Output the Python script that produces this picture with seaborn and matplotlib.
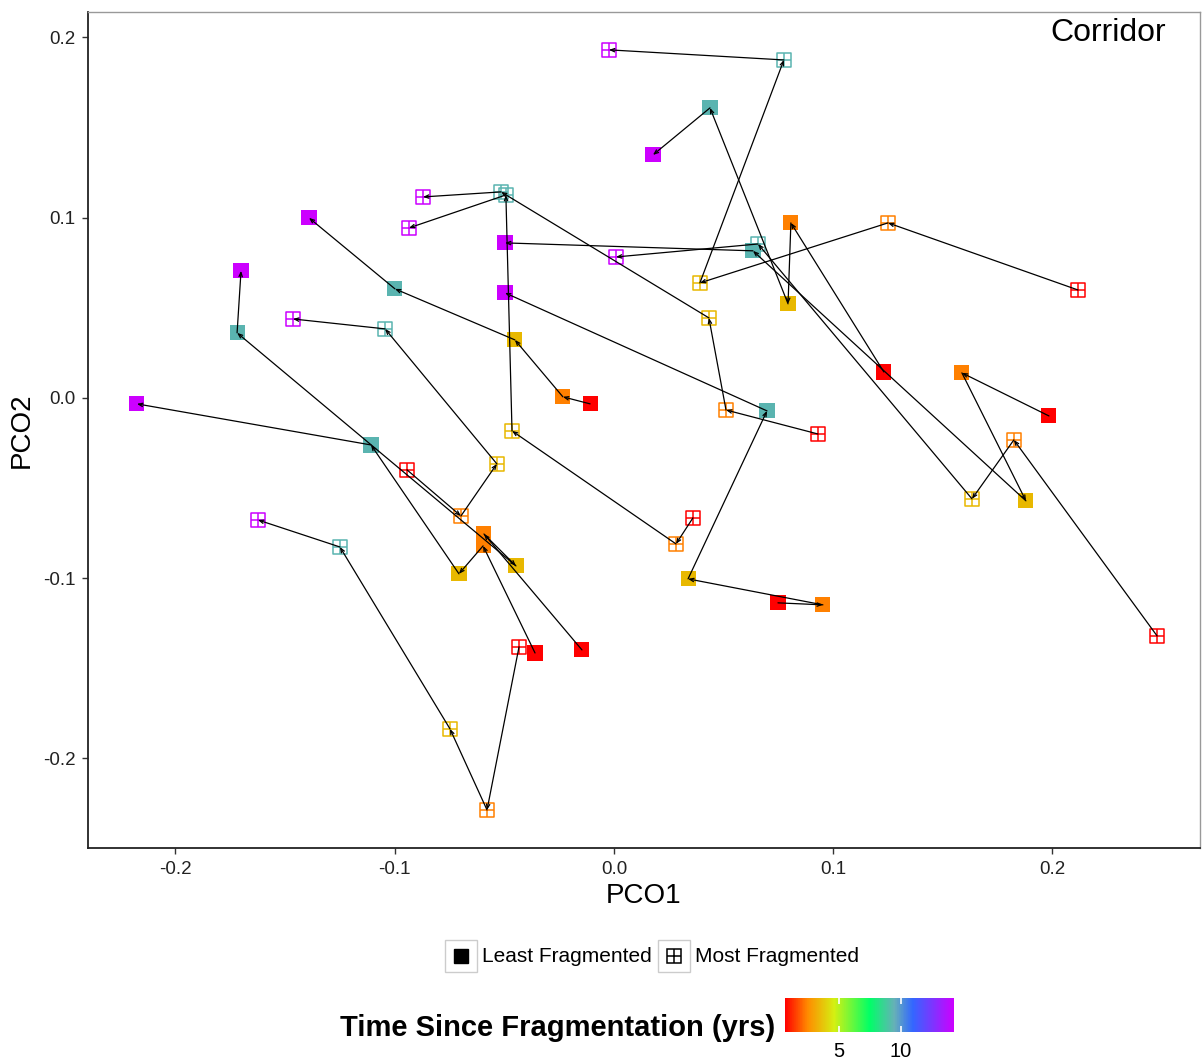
import numpy as np
import pandas as pd
import matplotlib
matplotlib.use("Agg")
import matplotlib.pyplot as plt
from matplotlib.colors import LinearSegmentedColormap, Normalize
from matplotlib.cm import ScalarMappable
from matplotlib.patches import Rectangle
from matplotlib.lines import Line2D
import seaborn as sns

# Time since fragmentation (yrs) for each sampling, and the colour used for it
times = [1, 3, 4, 9, 14]
time_colors = ["#FF0000", "#FF8000", "#E8B800", "#5AB4B0", "#CC00FF"]

# Least fragmented sites: one list per site, points in order of `times`
least_x = [
    [0.1231, 0.0807, 0.0794, 0.0438, 0.0178],
    [0.1984, 0.1587, 0.1879, 0.0634, -0.0497],
    [0.0748, 0.0953, 0.0338, 0.0698, -0.0497],
    [-0.0109, -0.0233, -0.0452, -0.0999, -0.1391],
    [-0.0146, -0.0593, -0.0447, -0.1719, -0.1701],
    [-0.0360, -0.0597, -0.0707, -0.1108, -0.2176],
]
least_y = [
    [0.0144, 0.0971, 0.0522, 0.1609, 0.1348],
    [-0.0100, 0.0139, -0.0571, 0.0816, 0.0860],
    [-0.1137, -0.1148, -0.1004, -0.0072, 0.0583],
    [-0.0033, 0.0006, 0.0322, 0.0605, 0.0999],
    [-0.1398, -0.0755, -0.0932, 0.0361, 0.0705],
    [-0.1415, -0.0821, -0.0976, -0.0261, -0.0033],
]

# Most fragmented sites
most_x = [
    [0.2116, 0.1250, 0.0392, 0.0775, -0.0023],
    [0.0930, 0.0511, 0.0433, -0.0515, -0.0871],
    [0.0360, 0.0283, -0.0465, -0.0493, -0.0935],
    [0.2477, 0.1824, 0.1633, 0.0657, 0.0009],
    [-0.0944, -0.0698, -0.0534, -0.1044, -0.1464],
    [-0.0433, -0.0579, -0.0748, -0.1250, -0.1624],
]
most_y = [
    [0.0599, 0.0971, 0.0638, 0.1875, 0.1931],
    [-0.0200, -0.0067, 0.0444, 0.1143, 0.1115],
    [-0.0666, -0.0810, -0.0183, 0.1126, 0.0943],
    [-0.1320, -0.0233, -0.0560, 0.0854, 0.0782],
    [-0.0399, -0.0655, -0.0366, 0.0383, 0.0438],
    [-0.1381, -0.2286, -0.1836, -0.0827, -0.0677],
]

rows = []
for treat, xs_all, ys_all in [("Least Fragmented", least_x, least_y),
                              ("Most Fragmented", most_x, most_y)]:
    for site, (xs, ys) in enumerate(zip(xs_all, ys_all)):
        for t, x, y in zip(times, xs, ys):
            rows.append({"treatment": treat, "site": f"{treat}-{site}", "time": t, "PCO1": x, "PCO2": y})
df = pd.DataFrame(rows)
palette = dict(zip(times, time_colors))

sns.set_theme(style="white")
plt.rcParams["font.family"] = ["Liberation Sans", "DejaVu Sans"]

W, H = 1202, 1062
fig = plt.figure(figsize=(W / 100, H / 100), dpi=100)


def fx(px):
    return px / W


def fy(py):
    return 1 - py / H


ax = fig.add_axes([fx(88), fy(848), fx(1200) - fx(88), fy(12) - fy(848)])

# filled squares
least = df[df["treatment"] == "Least Fragmented"]
sns.scatterplot(data=least, x="PCO1", y="PCO2", hue="time", palette=palette,
                marker="s", s=118, linewidth=0, legend=False, ax=ax, zorder=2)

# squares with a cross
most = df[df["treatment"] == "Most Fragmented"]
ax.scatter(most["PCO1"], most["PCO2"], marker="s", s=100, facecolors="none",
           edgecolors=most["time"].map(palette), linewidths=1.1, zorder=2)
sns.scatterplot(data=most, x="PCO1", y="PCO2", hue="time", palette=palette,
                marker="+", s=100, linewidth=1.1, legend=False, ax=ax, zorder=2)

# trajectories with small arrows, in time order
for _, g in df.groupby("site"):
    g = g.sort_values("time")
    pts = g[["PCO1", "PCO2"]].to_numpy()
    for (x0, y0), (x1, y1) in zip(pts[:-1], pts[1:]):
        ax.annotate("", xy=(x1, y1), xytext=(x0, y0),
                    arrowprops=dict(arrowstyle="->,head_length=0.3,head_width=0.12",
                                    color="black", lw=0.9, shrinkA=0, shrinkB=0,
                                    mutation_scale=10),
                    zorder=3)

ax.set_xlim(-0.2399, 0.2673)
ax.set_ylim(-0.2497, 0.2141)
ticks = [-0.2, -0.1, 0.0, 0.1, 0.2]
ax.set_xticks(ticks)
ax.set_yticks(ticks)
ax.set_xticklabels([f"{t:.1f}" for t in ticks])
ax.set_yticklabels([f"{t:.1f}" for t in ticks])
ax.tick_params(axis="both", which="both", bottom=True, left=True, length=4, width=1,
               direction="out", color="#333333", labelsize=13.5, labelcolor="#222222", pad=5)

for side in ["left", "bottom"]:
    ax.spines[side].set_color("#222222")
    ax.spines[side].set_linewidth(1.3)
for side in ["top", "right"]:
    ax.spines[side].set_color("#999999")
    ax.spines[side].set_linewidth(1.0)

ax.set_xlabel("PCO1", fontsize=20, color="black")
ax.set_ylabel("PCO2", fontsize=20, color="black")
ax.xaxis.set_label_coords(0.5, -(896 - 848) / 836)
ax.xaxis.label.set_va("center")
ax.yaxis.set_label_coords((22 - 88) / 1112, 0.5)
ax.yaxis.label.set_va("center")
ax.yaxis.label.set_ha("center")

ax.text((1108 - 88) / 1112, 1 - (33 - 12) / 836, "Corridor", transform=ax.transAxes,
        ha="center", va="center", fontsize=23, color="black")

# shape legend (keys drawn in their own boxes)
key_w, key_h = 32, 32
for kx, label, kind in [(445, "Least Fragmented", "filled"), (658, "Most Fragmented", "cross")]:
    fig.patches.append(Rectangle((fx(kx), fy(956 + key_h / 2)), key_w / W, key_h / H,
                                 transform=fig.transFigure, facecolor="white",
                                 edgecolor="#CCCCCC", lw=1.0))
    cx, cy = fx(kx + key_w / 2), fy(956)
    if kind == "filled":
        fig.lines.append(Line2D([cx], [cy], marker="s", markersize=10, color="black",
                                linestyle="none", transform=fig.transFigure))
    else:
        fig.lines.append(Line2D([cx], [cy], marker="s", markersize=10, markerfacecolor="none",
                                markeredgecolor="black", markeredgewidth=1.1,
                                linestyle="none", transform=fig.transFigure))
        fig.lines.append(Line2D([cx], [cy], marker="+", markersize=10, color="black",
                                markeredgewidth=1.1, linestyle="none", transform=fig.transFigure))
    fig.text(fx(kx + key_w + 5), fy(956), label, ha="left", va="center", fontsize=15, color="black")

# colour bar for time since fragmentation
vmin, vmax = 0.65, 14.3
cbar_ticks = [5, 10]
cmap = LinearSegmentedColormap.from_list(
    "frag",
    [(0.0, "#FF0000"), (0.135, "#FF8C00"), (0.29, "#D4F012"), (0.50, "#00FF66"),
     (0.648, "#66B0B8"), (0.758, "#3366FF"), (1.0, "#CC00FF")])
cax = fig.add_axes([fx(785), fy(1032), fx(954) - fx(785), fy(998) - fy(1032)])
cb = fig.colorbar(ScalarMappable(norm=Normalize(vmin, vmax), cmap=cmap), cax=cax,
                  orientation="horizontal")
cb.outline.set_visible(False)
cb.set_ticks(cbar_ticks)
cax.tick_params(axis="x", length=0, labelsize=14.5, labelcolor="black", pad=7)
cax.vlines(cbar_ticks, 0, 0.18, color="white", lw=1.2, transform=cax.get_xaxis_transform())
cax.vlines(cbar_ticks, 0.82, 1, color="white", lw=1.2, transform=cax.get_xaxis_transform())
fig.text(fx(775), fy(1028), "Time Since Fragmentation (yrs)", ha="right", va="center",
         fontsize=21, fontweight="bold", color="black")

fig.savefig("out.png", dpi=100)
